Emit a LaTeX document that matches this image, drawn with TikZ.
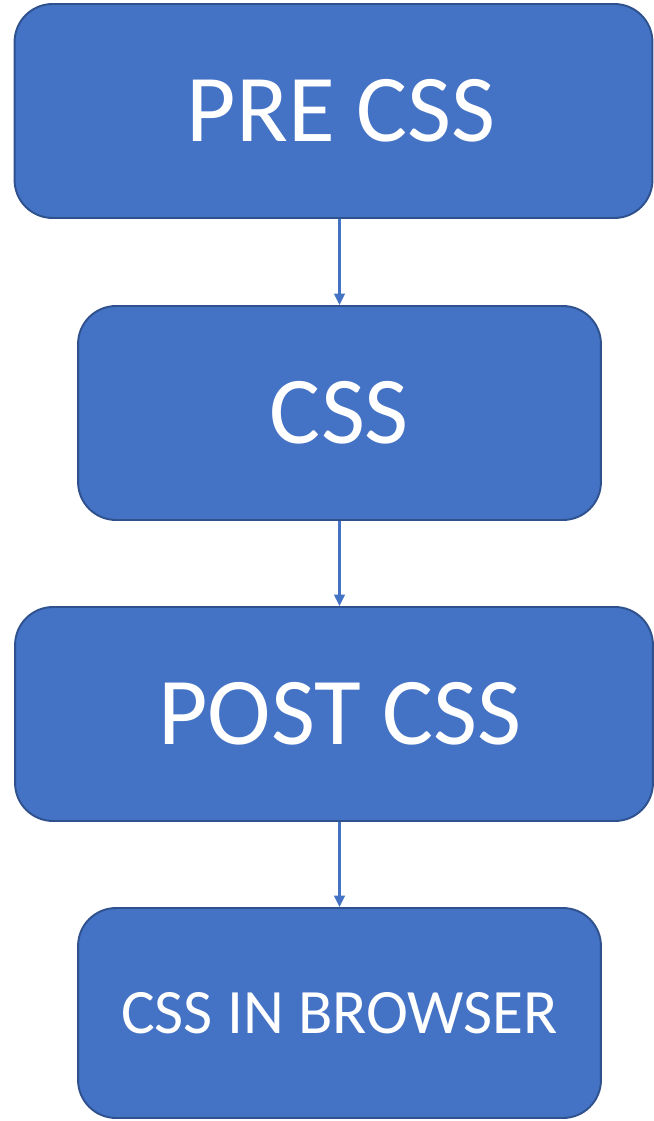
\documentclass[tikz,border=0pt]{standalone}
\usepackage{fontspec}
\setmainfont{Carlito}
\usetikzlibrary{arrows.meta}
\definecolor{boxblue}{HTML}{4472C4}
\definecolor{boxedge}{HTML}{2F528F}
\begin{document}
\begin{tikzpicture}[x=0.02cm,y=-0.02cm,
   stage/.style={draw=boxedge,fill=boxblue,line width=1.1pt,rounded corners=0.76cm,
                 text=white,inner sep=0pt,minimum height=4.28cm},
   wide/.style={stage,minimum width=12.76cm},
   narrow/.style={stage,minimum width=10.46cm},
   big/.style={font=\fontsize{54.5}{60}\selectfont},
   link/.style={-{Triangle[length=6.5pt,width=6pt]},draw=boxblue,line width=1.3pt}]
   \useasboundingbox (0,0) rectangle (653,1121);

   \node[wide,big] (pre) at (333.5,111) {\hspace*{0.3cm}\raisebox{-0.08cm}{PRE CSS}};
   \node[narrow,big] (css) at (339.5,413) {\raisebox{-0.07cm}{CSS}};
   \node[wide,big] (post) at (334,714) {\hspace*{0.24cm}\raisebox{-0.08cm}{POST CSS}};
   \node[narrow,font=\fontsize{36}{40}\selectfont,minimum height=4.2cm] (browser) at (339.5,1013) {\raisebox{-0.1cm}{CSS IN BROWSER}};

   \draw[link] (pre.south -| css.north) -- (css.north);
   \draw[link] (css.south) -- (post.north -| css.south);
   \draw[link] (post.south -| browser.north) -- (browser.north);
\end{tikzpicture}
\end{document}
